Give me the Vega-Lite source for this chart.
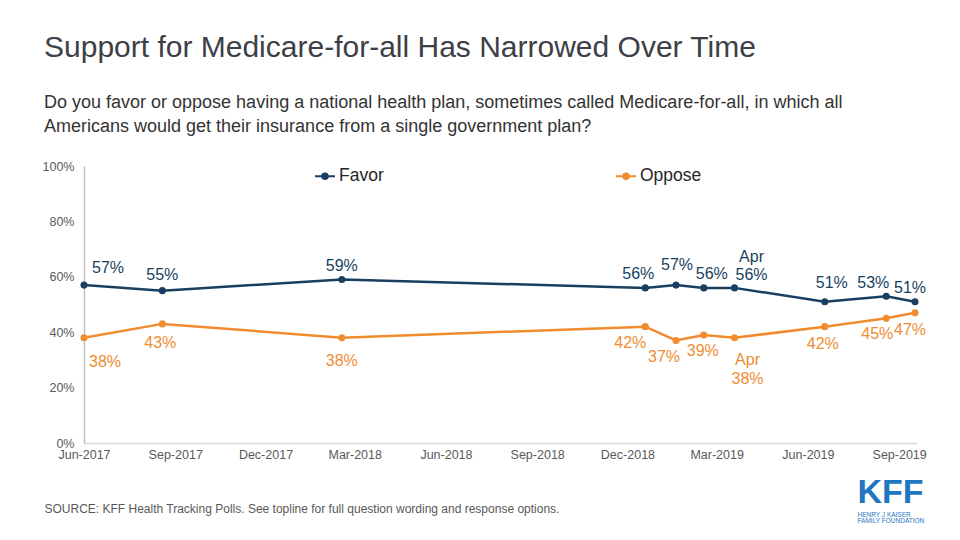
{
  "$schema": "https://vega.github.io/schema/vega-lite/v6.json",
  "width": 833,
  "height": 277,
  "autosize": {"type": "none"},
  "padding": {"left": 84, "top": 166, "right": 43, "bottom": 97},
  "background": "white",
  "config": {
    "view": {"stroke": null},
    "font": "Liberation Sans",
    "text": {"font": "Liberation Sans"}
  },
  "title": {
    "text": "Support for Medicare-for-all Has Narrowed Over Time",
    "subtitle": [
      "Do you favor or oppose having a national health plan, sometimes called Medicare-for-all, in which all",
      "Americans would get their insurance from a single government plan?"
    ],
    "anchor": "start",
    "frame": "group",
    "orient": "top",
    "dx": -40,
    "offset": 24,
    "font": "Liberation Sans",
    "fontSize": 30,
    "fontWeight": "normal",
    "color": "#3d4046",
    "subtitleFont": "Liberation Sans",
    "subtitleFontSize": 18,
    "subtitleColor": "#333333",
    "subtitleLineHeight": 24,
    "subtitlePadding": 31
  },
  "datasets": {
    "polls": [
      {"date": "2017-06-01", "series": "Favor", "value": 57, "label": "57%"},
      {"date": "2017-08-19", "series": "Favor", "value": 55, "label": "55%"},
      {"date": "2018-02-16", "series": "Favor", "value": 59, "label": "59%"},
      {"date": "2018-12-19", "series": "Favor", "value": 56, "label": "56%"},
      {"date": "2019-01-19", "series": "Favor", "value": 57, "label": "57%"},
      {"date": "2019-02-16", "series": "Favor", "value": 56, "label": "56%"},
      {"date": "2019-03-19", "series": "Favor", "value": 56, "label": "Apr\n56%"},
      {"date": "2019-06-18", "series": "Favor", "value": 51, "label": "51%"},
      {"date": "2019-08-19", "series": "Favor", "value": 53, "label": "53%"},
      {"date": "2019-09-17", "series": "Favor", "value": 51, "label": "51%"},
      {"date": "2017-06-01", "series": "Oppose", "value": 38, "label": "38%"},
      {"date": "2017-08-19", "series": "Oppose", "value": 43, "label": "43%"},
      {"date": "2018-02-16", "series": "Oppose", "value": 38, "label": "38%"},
      {"date": "2018-12-19", "series": "Oppose", "value": 42, "label": "42%"},
      {"date": "2019-01-19", "series": "Oppose", "value": 37, "label": "37%"},
      {"date": "2019-02-16", "series": "Oppose", "value": 39, "label": "39%"},
      {"date": "2019-03-19", "series": "Oppose", "value": 38, "label": "Apr\n38%"},
      {"date": "2019-06-18", "series": "Oppose", "value": 42, "label": "42%"},
      {"date": "2019-08-19", "series": "Oppose", "value": 45, "label": "45%"},
      {"date": "2019-09-17", "series": "Oppose", "value": 47, "label": "47%"}
    ],
    "logo": [{"text": "KFF"}],
    "logo1": [{"text": "HENRY J KAISER"}],
    "logo2": [{"text": "FAMILY FOUNDATION"}]
  },
  "data": {"name": "polls"},
  "layer": [
    {
      "encoding": {
        "x": {
          "field": "date",
          "type": "temporal",
          "scale": {
            "type": "utc",
            "domain": [
              {"year": 2017, "month": "jun", "date": 1, "utc": true},
              {"year": 2019, "month": "sep", "date": 19, "utc": true}
            ]
          },
          "axis": {
            "values": [
              {"year": 2017, "month": "jun", "date": 1, "utc": true},
              {"year": 2017, "month": "sep", "date": 1, "utc": true},
              {"year": 2017, "month": "dec", "date": 1, "utc": true},
              {"year": 2018, "month": "mar", "date": 1, "utc": true},
              {"year": 2018, "month": "jun", "date": 1, "utc": true},
              {"year": 2018, "month": "sep", "date": 1, "utc": true},
              {"year": 2018, "month": "dec", "date": 1, "utc": true},
              {"year": 2019, "month": "mar", "date": 1, "utc": true},
              {"year": 2019, "month": "jun", "date": 1, "utc": true},
              {"year": 2019, "month": "sep", "date": 1, "utc": true}
            ],
            "labelExpr": "utcFormat(datum.value, '%b-%Y')",
            "grid": false,
            "ticks": false,
            "tickSize": 0,
            "labelPadding": 5,
            "labelFlush": false,
            "labelFontSize": 12.5,
            "labelColor": "#595959",
            "labelFont": "Liberation Sans",
            "labelOverlap": false,
            "domainColor": "#d9d9d9",
            "domainWidth": 1.5,
            "title": "SOURCE: KFF Health Tracking Polls. See topline for full question wording and response options.",
            "titleFont": "Liberation Sans",
            "titleFontSize": 12,
            "titleFontWeight": "normal",
            "titleColor": "#595959",
            "titleAnchor": "start",
            "titleAlign": "left",
            "titleBaseline": "middle",
            "titleX": -40,
            "titleY": 65
          }
        },
        "y": {
          "field": "value",
          "type": "quantitative",
          "scale": {"domain": [0, 100], "nice": false, "zero": true},
          "axis": {
            "values": [0, 20, 40, 60, 80, 100],
            "labelExpr": "datum.value + '%'",
            "grid": false,
            "ticks": false,
            "tickSize": 0,
            "labelPadding": 10,
            "labelFontSize": 12.5,
            "labelColor": "#595959",
            "labelFont": "Liberation Sans",
            "domainColor": "#bfbfbf",
            "domainWidth": 1.5,
            "title": null
          }
        }
      },
      "layer": [
        {
          "mark": {"type": "line", "strokeWidth": 2.5},
          "encoding": {
            "color": {
              "field": "series",
              "type": "nominal",
              "scale": {"domain": ["Favor", "Oppose"], "range": ["#183f61", "#f08c2e"]},
              "legend": {
                "title": null,
                "orient": "none",
                "direction": "horizontal",
                "legendX": 230,
                "legendY": -1,
                "columnPadding": 228,
                "symbolType": "M-1,0H1M0,-0.28A0.28,0.28 0 1,1 0,0.28A0.28,0.28 0 1,1 0,-0.28",
                "symbolSize": 400,
                "symbolStrokeWidth": 2,
                "labelFontSize": 17.5,
                "labelFont": "Liberation Sans",
                "labelColor": "#262626",
                "labelOffset": 3
              }
            }
          }
        },
        {
          "mark": {"type": "point", "filled": true, "size": 50, "opacity": 1},
          "encoding": {
            "color": {"field": "series", "type": "nominal", "legend": null}
          }
        },
        {
          "transform": [{"filter": "datum.series == 'Favor'"}],
          "mark": {
            "type": "text",
            "align": "center",
            "baseline": "bottom",
            "fontSize": 16,
            "lineBreak": "\n",
            "lineHeight": 18,
            "color": "#183f61",
            "dx": {"expr": "[24, 0, 0, -7, 1, 8, 17, 7, -13, -5][indexof(['2017-06','2017-08','2018-02','2018-12','2019-01','2019-02','2019-03','2019-06','2019-08','2019-09'], utcFormat(datum.date, '%Y-%m'))]"},
            "dy": {"expr": "[-9, -8, -6, -6, -12, -6, -23, -11, -5, -6][indexof(['2017-06','2017-08','2018-02','2018-12','2019-01','2019-02','2019-03','2019-06','2019-08','2019-09'], utcFormat(datum.date, '%Y-%m'))]"}
          },
          "encoding": {"text": {"field": "label"}}
        },
        {
          "transform": [{"filter": "datum.series == 'Oppose'"}],
          "mark": {
            "type": "text",
            "align": "center",
            "baseline": "top",
            "fontSize": 16,
            "lineBreak": "\n",
            "lineHeight": 19,
            "color": "#ee8d32",
            "dx": {"expr": "[21, -2, 0, -15, -12, -1, 13, -2, -9, -5][indexof(['2017-06','2017-08','2018-02','2018-12','2019-01','2019-02','2019-03','2019-06','2019-08','2019-09'], utcFormat(datum.date, '%Y-%m'))]"},
            "dy": {"expr": "[16, 11, 15, 8, 8, 8, 14, 9, 8, 9][indexof(['2017-06','2017-08','2018-02','2018-12','2019-01','2019-02','2019-03','2019-06','2019-08','2019-09'], utcFormat(datum.date, '%Y-%m'))]"}
          },
          "encoding": {"text": {"field": "label"}}
        }
      ]
    },
    {
      "data": {"name": "logo"},
      "mark": {"type": "text", "align": "left", "baseline": "alphabetic", "fontSize": 34, "fontWeight": "bold", "font": "Liberation Sans", "color": "#1f77c0", "clip": false},
      "encoding": {
        "x": {"datum": {"year": 2019, "month": "jul", "date": 21, "utc": true}, "type": "temporal"},
        "y": {"datum": -21.5, "type": "quantitative"},
        "text": {"field": "text"}
      }
    },
    {
      "data": {"name": "logo1"},
      "mark": {"type": "text", "align": "left", "baseline": "alphabetic", "fontSize": 6.5, "font": "Liberation Sans", "color": "#1f77c0", "clip": false},
      "encoding": {
        "x": {"datum": {"year": 2019, "month": "jul", "date": 21, "utc": true}, "type": "temporal"},
        "y": {"datum": -26.6, "type": "quantitative"},
        "text": {"field": "text"}
      }
    },
    {
      "data": {"name": "logo2"},
      "mark": {"type": "text", "align": "left", "baseline": "alphabetic", "fontSize": 6.5, "font": "Liberation Sans", "color": "#1f77c0", "clip": false},
      "encoding": {
        "x": {"datum": {"year": 2019, "month": "jul", "date": 21, "utc": true}, "type": "temporal"},
        "y": {"datum": -29, "type": "quantitative"},
        "text": {"field": "text"}
      }
    }
  ]
}
